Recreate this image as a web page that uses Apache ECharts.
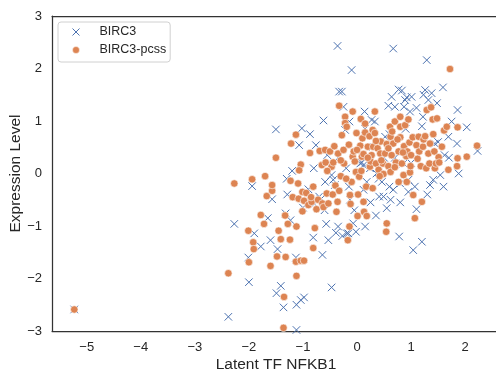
<!DOCTYPE html>
<html>
<head>
<meta charset="utf-8">
<script src="https://cdn.jsdelivr.net/npm/echarts@6/dist/echarts.min.js"></script>
<style>
html,body{margin:0;padding:0;background:#fff;}
#chart{width:496px;height:370px;}
</style>
</head>
<body>
<div id="chart"></div>
<script>
// ---- data ----
const xTicks = [-5, -4, -3, -2, -1, 0, 1, 2];
const yTicks = [-3, -2, -1, 0, 1, 2, 3];
const seriesNames = ['BIRC3', 'BIRC3-pcss'];

const birc3 = [
[-5.23,-2.59],[-2.38,-2.73],[-2.27,-0.96],[-2.01,-1.60],[-2.00,-2.07],[-1.94,-0.24],[-1.90,-1.14],[-1.78,-1.39],
[-1.65,-0.85],[-1.60,-1.27],[-1.57,-0.49],[-1.50,0.84],[-1.49,-2.28],[-1.47,-1.44],[-1.41,-2.14],[-1.36,-2.55],
[-1.32,-0.76],[-1.29,-0.40],[-1.23,-0.89],[-1.20,0.05],[-1.13,-1.60],[-1.12,-2.50],[-1.12,-2.98],[-1.04,-2.41],
[-0.98,-2.36],[-1.02,0.86],[-0.87,0.75],[-0.81,-1.22],[-0.76,0.54],[-0.79,-0.58],[-0.70,-0.44],[-0.67,-0.49],
[-0.64,-1.55],[-0.62,1.01],[-0.59,-0.16],[-0.57,-0.96],[-0.53,-1.27],[-0.47,-2.17],[-0.44,-0.12],[-0.41,-0.22],
[-0.39,-1.13],[-0.36,2.43],[-0.35,-1.01],[-0.33,1.56],[-0.28,1.56],[-0.27,-1.19],[-0.25,1.27],[-0.22,0.83],
[-0.19,-1.14],[-0.16,-1.14],[-0.14,0.99],[-0.13,-0.50],[-0.10,1.97],[-0.07,-0.95],[-0.02,-1.11],[0.02,0.42],
[0.06,0.19],[0.09,0.21],[0.12,-0.31],[0.14,1.18],[0.15,-1.01],[0.18,-0.16],[0.24,0.10],[0.27,1.02],
[0.30,0.51],[0.33,0.99],[0.36,0.00],[0.41,-0.44],[0.46,-0.16],[0.49,-0.44],[0.52,0.70],[0.55,-0.66],
[0.58,1.29],[0.60,-0.25],[0.62,-0.50],[0.64,1.46],[0.67,2.38],[0.67,-0.31],[0.70,1.27],[0.77,1.60],
[0.78,-1.20],[0.80,-0.19],[0.83,1.58],[0.86,0.19],[0.87,1.27],[0.89,1.40],[0.92,1.45],[0.95,-0.12],
[0.98,1.18],[1.01,1.46],[1.04,-1.46],[1.07,-0.25],[1.10,-0.68],[1.20,-1.30],[1.22,1.08],[1.23,1.50],
[1.26,1.59],[1.29,2.16],[1.32,1.40],[1.35,-0.22],[1.38,1.53],[1.41,-0.12],[1.44,0.57],[1.48,1.34],
[1.54,-0.03],[1.59,1.64],[1.62,0.35],[1.69,0.70],[1.75,0.99],[1.85,0.57],[1.86,1.21],[1.88,0.00],
[2.03,0.88],[2.23,0.43],
[-1.07,0.54],[-0.47,-0.03],[0.12,0.16],[-0.90,-0.30],[-0.60,-0.70],[0.25,-0.55],[0.40,-0.10],[0.70,0.30],
[1.00,0.20],[1.20,0.90],[0.90,0.85],[-0.20,0.10],[-0.05,-0.70],[0.50,0.30],[1.50,0.60],[1.70,0.30],
[-0.35,0.30],[0.15,0.85],[-1.30,-0.10],[0.80,-0.55],[1.30,-0.40],[-0.80,0.10],[0.60,0.75],[1.10,1.25],
[0.35,-0.80],[-0.15,-0.25],[-0.55,0.35],[-1.00,-0.65],[0.95,-0.35],[1.60,-0.25]
];

const birc3Pcss = [
[-5.23,-2.59],[-2.38,-1.90],[-2.27,-0.19],[-1.94,-0.11],[-1.70,-0.05],[-2.01,-1.09],[-2.00,-1.69],[-1.92,-1.31],
[-1.91,-1.44],[-1.78,-0.79],[-1.72,-0.96],[-1.67,-0.43],[-1.57,-0.33],[-1.57,-0.22],[-1.60,-1.76],[-1.50,0.30],
[-1.48,-1.58],[-1.45,-1.09],[-1.41,-1.25],[-1.33,-0.80],[-1.35,-2.35],[-1.36,-2.94],[-1.32,-1.59],[-1.28,-0.96],
[-1.24,-1.26],[-1.23,-0.14],[-1.22,0.57],[-1.19,-0.45],[-1.13,0.74],[-1.12,-1.01],[-1.13,-1.68],[-1.12,-1.95],
[-1.04,-1.66],[-0.98,-1.66],[-1.09,-0.19],[-1.08,-0.48],[-1.04,0.17],[-1.07,0.06],[-1.01,-0.35],[-1.01,-0.72],
[-0.98,-0.52],[-0.94,-0.37],[-0.90,-0.60],[-0.87,0.39],[-0.84,-0.54],[-0.81,-0.25],[-0.81,-1.42],[-0.78,-1.04],
[-0.75,-0.68],[-0.72,-0.50],[-0.69,0.43],[-0.65,0.16],[-0.64,-0.57],[-0.62,-0.64],[-0.59,0.45],[-0.58,0.21],
[-0.56,-0.38],[-0.53,-0.57],[-0.50,0.42],[-0.47,0.13],[-0.44,0.21],[-0.42,0.52],[-0.40,-0.23],[-0.38,-0.73],
[-0.36,-0.54],[-0.35,0.38],[-0.33,-0.33],[-0.33,1.29],[-0.30,-0.05],[-0.28,0.73],[-0.25,0.45],[-0.24,0.19],
[-0.22,1.08],[-0.22,0.96],[-0.19,0.89],[-0.17,-1.27],[-0.14,-1.01],[-0.13,-0.41],[-0.12,-0.58],[-0.10,-0.16],
[-0.08,1.18],[-0.08,0.32],[-0.06,0.42],[-0.04,0.23],[-0.02,0.03],[-0.01,0.77],[0.01,-0.81],[0.02,-0.40],
[0.04,-0.06],[0.06,0.53],[0.07,1.04],[0.09,0.32],[0.10,0.67],[0.12,0.37],[0.12,-0.54],[0.13,-0.73],
[0.15,0.78],[0.17,-0.25],[0.18,-0.81],[0.20,0.51],[0.23,0.71],[0.24,0.13],[0.25,0.23],[0.27,0.35],
[0.29,-0.28],[0.29,0.83],[0.30,0.51],[0.33,1.18],[0.33,0.77],[0.35,0.19],[0.38,0.48],[0.40,0.07],
[0.43,0.38],[0.44,0.61],[0.48,0.19],[0.49,-0.01],[0.52,0.38],[0.54,-1.11],[0.55,-0.95],[0.55,0.56],
[0.58,0.14],[0.61,0.89],[0.62,0.70],[0.62,0.03],[0.64,0.35],[0.67,0.57],[0.70,0.99],[0.72,0.21],
[0.77,0.42],[0.77,-0.16],[0.80,0.89],[0.80,0.69],[0.80,1.08],[0.83,0.19],[0.86,-0.03],[0.87,0.52],
[0.89,0.92],[0.91,0.33],[0.92,-0.16],[0.93,0.42],[0.95,1.03],[0.97,0.59],[0.98,0.02],[0.99,0.14],
[1.03,0.69],[1.04,-0.41],[1.07,-0.85],[1.10,0.54],[1.14,0.70],[1.15,0.42],[1.18,0.14],[1.20,-0.54],
[1.22,0.51],[1.23,0.65],[1.26,0.71],[1.28,0.10],[1.29,1.21],[1.32,0.38],[1.34,0.19],[1.35,0.57],
[1.37,1.26],[1.40,1.03],[1.41,0.75],[1.43,0.42],[1.44,0.10],[1.46,0.19],[1.48,1.05],[1.51,0.31],
[1.52,0.21],[1.57,0.51],[1.61,0.82],[1.66,0.89],[1.69,0.07],[1.72,1.99],[1.86,0.88],[1.86,0.29],
[1.85,0.14],[2.03,0.32],[2.22,0.53],
[-0.55,0.05],[-0.30,0.25],[-0.15,0.55],[0.00,0.45],[0.08,0.05],[0.20,0.30],[0.35,0.62],[0.45,0.25],
[0.58,0.48],[0.70,0.12],[0.75,0.65],[0.85,0.40],[1.00,0.35],[1.12,0.28],[0.42,-0.05],[-0.45,-0.40],
[-0.85,-0.45],[-0.20,-0.10],[0.15,0.95],[0.65,0.80]
];

// ---- chart ----
const FONT = '"Liberation Sans", Arial, sans-serif';
const TXT = '#262626';
const BLUE = '#4C72B0';
const ORANGE = '#DD8452';
const FRAME = {show: true, onZero: false, lineStyle: {color: '#333333', width: 1.25}};
const xSymbol = 'path://M0,0L10,10M10,0L0,10';
const minus = v => (v < 0 ? '\u2212' + Math.abs(v) : String(v));
const X_MIN = -5.642, X_MAX = 2.645;

const chart = echarts.init(document.getElementById('chart'), null, {renderer: 'canvas'});
chart.setOption({
  animation: false,
  backgroundColor: '#fff',
  grid: {
    left: 52, top: 16, width: 448, height: 315,
    show: false,
    containLabel: false,
    outerBoundsMode: 'none'
  },
  legend: {
    left: 58, top: 22,
    orient: 'vertical',
    data: [
      {name: seriesNames[0], icon: xSymbol, itemStyle: {color: 'transparent', borderColor: BLUE, borderWidth: 1}},
      {name: seriesNames[1], icon: 'circle', itemStyle: {color: ORANGE, borderColor: '#fff', borderWidth: 0.5}}
    ],
    symbolKeepAspect: true,
    itemWidth: 7, itemHeight: 7, itemGap: 4,
    padding: [3, 4, 5, 14],
    backgroundColor: '#fff',
    borderColor: '#d0d0d0', borderWidth: 1, borderRadius: 3,
    textStyle: {fontFamily: FONT, fontSize: 12.5, color: TXT, lineHeight: 14, padding: [0, 0, 0, 15]}
  },
  xAxis: [{
    type: 'value',
    min: X_MIN, max: X_MAX,
    position: 'bottom',
    name: 'Latent TF NFKB1',
    nameLocation: 'middle',
    nameMoveOverlap: false,
    nameGap: 26,
    nameTextStyle: {fontFamily: FONT, fontSize: 15.5, color: TXT},
    axisLine: FRAME,
    axisTick: {show: false},
    splitLine: {show: false},
    axisLabel: {
      customValues: xTicks,
      formatter: minus,
      fontFamily: FONT, fontSize: 13, color: TXT, margin: 10
    }
  }, {
    type: 'value',
    min: X_MIN, max: X_MAX,
    position: 'top',
    axisLine: FRAME,
    axisTick: {show: false},
    axisLabel: {show: false},
    splitLine: {show: false}
  }],
  yAxis: {
    type: 'value',
    min: -3, max: 3, interval: 1,
    position: 'left',
    name: 'Expression Level',
    nameLocation: 'middle',
    nameMoveOverlap: false,
    nameGap: 28,
    nameTextStyle: {fontFamily: FONT, fontSize: 15.5, color: TXT},
    axisLine: FRAME,
    axisTick: {show: false},
    splitLine: {show: false},
    axisLabel: {
      customValues: yTicks,
      formatter: minus,
      fontFamily: FONT, fontSize: 13, color: TXT, margin: 10
    }
  },
  series: [
    {
      name: seriesNames[0],
      type: 'scatter',
      xAxisIndex: 0,
      data: birc3,
      symbol: xSymbol,
      symbolSize: 7.5,
      itemStyle: {color: 'transparent', borderColor: BLUE, borderWidth: 1, opacity: 1}
    },
    {
      name: seriesNames[1],
      type: 'scatter',
      xAxisIndex: 0,
      data: birc3Pcss,
      symbol: 'circle',
      symbolSize: 7.5,
      itemStyle: {color: ORANGE, borderColor: '#fff', borderWidth: 0.6, opacity: 1}
    }
  ]
});
</script>
</body>
</html>
